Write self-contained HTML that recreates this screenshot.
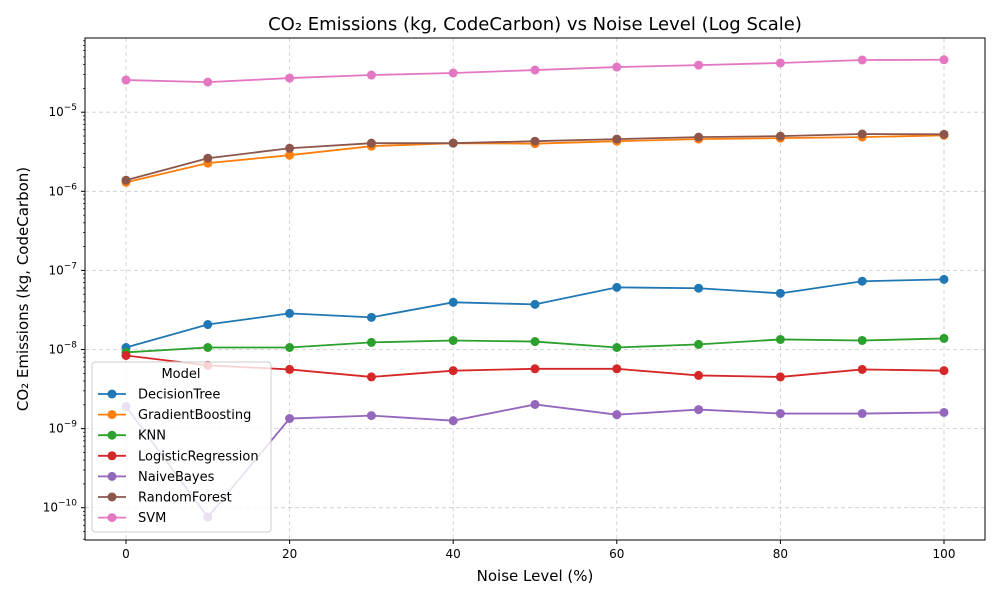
<!DOCTYPE html>
<html><head><meta charset="utf-8"><style>
body{margin:0;background:#fff;font-family:"Liberation Sans","DejaVu Sans",sans-serif;}
svg text{font-family:"DejaVu Sans","Liberation Sans",sans-serif;}
</style></head><body>
<svg id="chart" width="1000" height="600" xmlns="http://www.w3.org/2000/svg">
<rect width="1000" height="600" fill="#fff"/>
<text x="535" y="30" font-size="18" text-anchor="middle">CO₂ Emissions (kg, CodeCarbon) vs Noise Level (Log Scale)</text>
<text x="535" y="581" font-size="15" text-anchor="middle">Noise Level (%)</text>
<text transform="translate(28,289) rotate(-90)" font-size="15" text-anchor="middle">CO₂ Emissions (kg, CodeCarbon)</text>
<g id="grid"></g><g id="axes"></g><g id="series"></g><g id="legend"></g>
</svg>
<script>
const noiseLevels=[0,10,20,30,40,50,60,70,80,90,100];
const modelNames=["DecisionTree","GradientBoosting","KNN","LogisticRegression","NaiveBayes","RandomForest","SVM"];
const modelColors=["#1f77b4","#ff7f0e","#2ca02c","#d62728","#9467bd","#8c564b","#e377c2"];
const decisionTree=[1.06e-8,2.07e-8,2.86e-8,2.55e-8,3.95e-8,3.72e-8,6.1e-8,5.95e-8,5.13e-8,7.3e-8,7.7e-8];
const gradientBoosting=[1.3e-6,2.27e-6,2.86e-6,3.72e-6,4.06e-6,4.0e-6,4.3e-6,4.57e-6,4.7e-6,4.84e-6,5.1e-6];
const knn=[0.92e-8,1.06e-8,1.06e-8,1.23e-8,1.30e-8,1.26e-8,1.06e-8,1.16e-8,1.34e-8,1.30e-8,1.38e-8];
const logisticRegression=[8.4e-9,6.3e-9,5.6e-9,4.5e-9,5.4e-9,5.7e-9,5.7e-9,4.7e-9,4.5e-9,5.6e-9,5.4e-9];
const naiveBayes=[1.9e-9,7.6e-11,1.34e-9,1.46e-9,1.26e-9,2.02e-9,1.5e-9,1.74e-9,1.55e-9,1.55e-9,1.6e-9];
const randomForest=[1.38e-6,2.62e-6,3.5e-6,4.06e-6,4.06e-6,4.3e-6,4.57e-6,4.84e-6,4.98e-6,5.3e-6,5.25e-6];
const svm=[2.55e-5,2.4e-5,2.7e-5,2.95e-5,3.13e-5,3.41e-5,3.72e-5,3.94e-5,4.19e-5,4.57e-5,4.6e-5];
const xTicks=[0,20,40,60,80,100];
const yDecades=[-10,-9,-8,-7,-6,-5];
const allSeries=[decisionTree,gradientBoosting,knn,logisticRegression,naiveBayes,randomForest,svm];

const NS="http://www.w3.org/2000/svg";
const L=85,R=985,T=38,B=540;
function xs(v){return 126+(v/100)*(944-126);}
function ys(v){return 191.3-(Math.log10(v)+6)*79.1;}
function mk(tag,attrs,parent){const e=document.createElementNS(NS,tag);for(const k in attrs)e.setAttribute(k,attrs[k]);parent.appendChild(e);return e;}
const grid=document.getElementById('grid'),axes=document.getElementById('axes'),ser=document.getElementById('series'),leg=document.getElementById('legend');
xTicks.forEach(t=>{const x=xs(t);
 const g=mk('line',{x1:x,x2:x,y1:T,y2:B,stroke:'#ccc','stroke-dasharray':'4,3','stroke-width':0.8},grid);
 
 mk('line',{x1:x,x2:x,y1:B,y2:B+4,stroke:'#000'},axes);
 const tx=mk('text',{x:x,y:B+18,'font-size':12,'text-anchor':'middle'},axes);tx.textContent=t;
 });
yDecades.forEach(d=>{const y=ys(Math.pow(10,d));
 const g=mk('line',{x1:L,x2:R,y1:y,y2:y,stroke:'#ccc','stroke-dasharray':'4,3','stroke-width':0.8},grid);
 
 mk('line',{x1:L-4,x2:L,y1:y,y2:y,stroke:'#000'},axes);
 const tx=mk('text',{x:L-8,y:y+4,'font-size':12,'text-anchor':'end'},axes);
 tx.innerHTML='10<tspan dy="-6" font-size="9">−'+(-d)+'</tspan>';
 });
for(let d=-11;d<=-4;d++){for(let m=2;m<=9;m++){const y=ys(m*Math.pow(10,d));if(y>T&&y<B)mk('line',{x1:L-2,x2:L,y1:y,y2:y,stroke:'#000','stroke-width':0.7},axes);}}
const fr=mk('rect',{x:L,y:T,width:R-L,height:B-T,fill:'none',stroke:'#000','stroke-width':1},axes);

allSeries.forEach((s,i)=>{const g=mk('g',{},ser);
 
 mk('polyline',{points:s.map((v,j)=>xs(noiseLevels[j])+','+ys(v)).join(' '),fill:'none',stroke:modelColors[i],'stroke-width':1.8},g);
 s.forEach((v,j)=>{const c=mk('circle',{cx:xs(noiseLevels[j]),cy:ys(v),r:4.5,fill:modelColors[i]},g);
  });});
const lb=mk('rect',{x:92,y:362,width:179,height:170,rx:3,fill:'#fff','fill-opacity':0.8,stroke:'#ccc'},leg);

const lt=mk('text',{x:181,y:378,'font-size':13,'text-anchor':'middle'},leg);lt.textContent='Model';

modelNames.forEach((n,i)=>{const y=394+i*20.6;const g=mk('g',{},leg);
 
 mk('line',{x1:98,x2:126,y1:y,y2:y,stroke:modelColors[i],'stroke-width':1.8},g);
 mk('circle',{cx:112,cy:y,r:4.5,fill:modelColors[i]},g);
 const t=mk('text',{x:138,y:y+4.5,'font-size':13},g);t.textContent=n;});
</script>
</body></html>
